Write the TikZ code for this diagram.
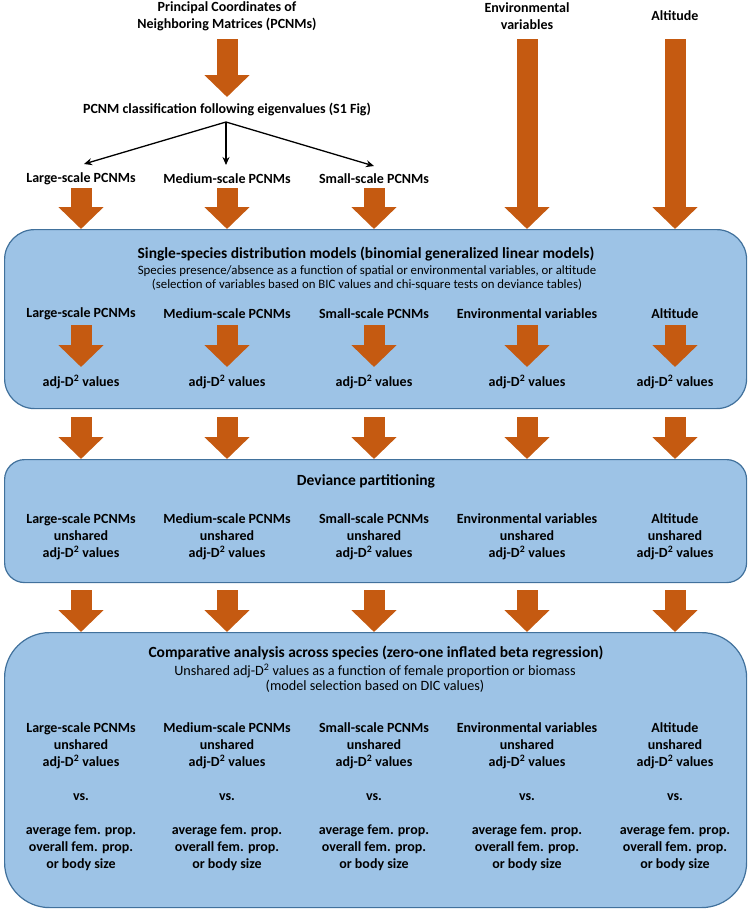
\documentclass[tikz,border=0pt]{standalone}
\usepackage{fontspec}
\setmainfont{Carlito}
\usetikzlibrary{arrows.meta}
\definecolor{boxfill}{HTML}{9DC3E6}
\definecolor{boxline}{HTML}{41719C}
\definecolor{arr}{HTML}{C55A11}
\begin{document}
\begin{tikzpicture}[x=1pt,y=-1pt,
  lbl/.style={font=\bfseries\fontsize{14}{17}\selectfont, align=center, inner sep=0pt},
  ttl/.style={font=\bfseries\fontsize{15.5}{18}\selectfont, align=center, inner sep=0pt},
  sub/.style={font=\fontsize{12.8}{13.4}\selectfont, align=center, inner sep=0pt},
  subb/.style={font=\fontsize{14.2}{14.6}\selectfont, align=center, inner sep=0pt},
  panel/.style={draw=boxline, fill=boxfill, line width=1.2pt, rounded corners=#1, inner sep=0pt, anchor=north west},
  blockarrow/.style={draw=arr, line width=21pt, -{Triangle[length=22pt,width=44pt]}},
  thinarrow/.style={draw=black, line width=1.3pt, -{Stealth[length=8pt,width=7pt]}}
]
\useasboundingbox (0,0) rectangle (750,911);

% top sources
\node[lbl] (pcnm) at (227,16) {Principal Coordinates of\\Neighboring Matrices (PCNMs)};
\node[lbl] (env) at (527,16) {Environmental\\variables};
\node[lbl] (alt) at (675,16) {Altitude};
\node[lbl] (class) at (227,109) {PCNM classification following eigenvalues (S1 Fig)};
\node[lbl] (tl1) at (81,179) {Large-scale PCNMs};
\node[lbl] (tl2) at (227,179) {Medium-scale PCNMs};
\node[lbl] (tl3) at (374,179) {Small-scale PCNMs};

\coordinate (pcnmA) at (227,39);
\coordinate (pcnmB) at (227,97);
\draw[blockarrow] (pcnmA) -- (pcnmB);

\coordinate (split) at (226,122);
\coordinate (e1) at (84,164);
\coordinate (e2) at (226,165);
\coordinate (e3) at (374,166);
\draw[thinarrow] (split) -- (e1);
\draw[thinarrow] (split) -- (e2);
\draw[thinarrow] (split) -- (e3);

% boxes
\node[panel=30, minimum width=742pt, minimum height=179pt] (box1) at (4,229) {};
\node[panel=20, minimum width=742pt, minimum height=123pt] (box2) at (4,459) {};
\node[panel=45, minimum width=742pt, minimum height=275pt] (box3) at (4,632) {};

% arrows into box 1
\coordinate (t1) at (81,188);
\coordinate (t2) at (227,188);
\coordinate (t3) at (374,188);
\coordinate (t4) at (527,39);
\coordinate (t5) at (675,39);
\foreach \i in {1,...,5} \draw[blockarrow] (t\i) -- (t\i |- box1.north);

% box 1 content
\node[ttl] (ttl1) at (366,254) {Single-species distribution models (binomial generalized linear models)};
\node[sub] (sub1) at (367,278) {Species presence/absence as a function of spatial or environmental variables, or altitude\\(selection of variables based on BIC values and chi-square tests on deviance tables)};
\node[lbl] (b1l1) at (81,314) {Large-scale PCNMs};
\node[lbl] (b1l2) at (227,314) {Medium-scale PCNMs};
\node[lbl] (b1l3) at (374,314) {Small-scale PCNMs};
\node[lbl] (b1l4) at (527,314) {Environmental variables};
\node[lbl] (b1l5) at (675,314) {Altitude};
\foreach \i/\x in {1/81,2/227,3/374,4/527,5/675}{
  \node[lbl] (adj\i) at (\x,382) {adj-D\textsuperscript{2} values};
  \coordinate (ia\i) at (\x,325);
  \coordinate (ib\i) at (\x,367);
  \draw[blockarrow] (ia\i) -- (ib\i);
  \coordinate (ma\i) at (\x,417);
  \draw[blockarrow] (ma\i) -- (ma\i |- box2.north);
  \coordinate (na\i) at (\x,590);
  \draw[blockarrow] (na\i) -- (na\i |- box3.north);
}

% box 2 content
\node[ttl] (ttl2) at (366,481) {Deviance partitioning};
\node[lbl] (b2l1) at (81,537) {Large-scale PCNMs\\unshared\\adj-D\textsuperscript{2} values};
\node[lbl] (b2l2) at (227,537) {Medium-scale PCNMs\\unshared\\adj-D\textsuperscript{2} values};
\node[lbl] (b2l3) at (374,537) {Small-scale PCNMs\\unshared\\adj-D\textsuperscript{2} values};
\node[lbl] (b2l4) at (527,537) {Environmental variables\\unshared\\adj-D\textsuperscript{2} values};
\node[lbl] (b2l5) at (675,537) {Altitude\\unshared\\adj-D\textsuperscript{2} values};

% box 3 content
\node[ttl] (ttl3) at (376,653) {Comparative analysis across species (zero-one inflated beta regression)};
\node[subb] (sub3) at (375,678) {Unshared adj-D\textsuperscript{2} values as a function of female proportion or biomass\\(model selection based on DIC values)};
\node[lbl] (b3l1) at (81,746) {Large-scale PCNMs\\unshared\\adj-D\textsuperscript{2} values};
\node[lbl] (b3l2) at (227,746) {Medium-scale PCNMs\\unshared\\adj-D\textsuperscript{2} values};
\node[lbl] (b3l3) at (374,746) {Small-scale PCNMs\\unshared\\adj-D\textsuperscript{2} values};
\node[lbl] (b3l4) at (527,746) {Environmental variables\\unshared\\adj-D\textsuperscript{2} values};
\node[lbl] (b3l5) at (675,746) {Altitude\\unshared\\adj-D\textsuperscript{2} values};
\foreach \i/\x in {1/81,2/227,3/374,4/527,5/675}{
  \node[lbl] (vs\i) at (\x,797) {vs.};
  \node[lbl] (cov\i) at (\x,848) {average fem. prop.\\overall fem. prop.\\or body size};
}
\end{tikzpicture}
\end{document}
